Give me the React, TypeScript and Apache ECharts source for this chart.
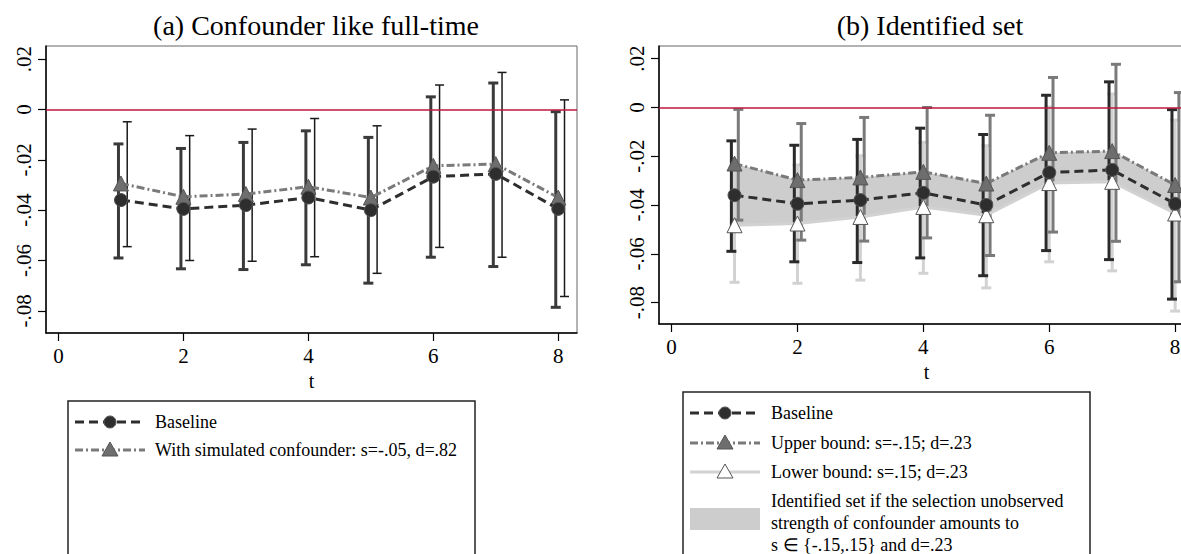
import React, { useEffect, useRef } from "react";
import * as echarts from "echarts";

const T = [1, 2, 3, 4, 5, 6, 7, 8];
const X_TICKS = [0, 2, 4, 6, 8];
const Y_TICKS = [-0.08, -0.06, -0.04, -0.02, 0, 0.02];

const BASE = [-0.036, -0.0395, -0.038, -0.035, -0.04, -0.0267, -0.0256, -0.0395];
const BASE_LO = [-0.059, -0.0633, -0.0636, -0.0617, -0.069, -0.0587, -0.0624, -0.0786];
const BASE_HI = [-0.0137, -0.0155, -0.0131, -0.0085, -0.0111, 0.005, 0.0105, -0.0009];

const CONF = [-0.0294, -0.0347, -0.0336, -0.0307, -0.035, -0.0224, -0.0217, -0.035];
const CONF_LO = [-0.0545, -0.06, -0.0603, -0.0585, -0.0651, -0.0548, -0.0587, -0.0743];
const CONF_HI = [-0.0049, -0.0104, -0.0078, -0.0036, -0.0065, 0.0097, 0.0147, 0.0038];

const UPPER = [-0.023, -0.0298, -0.0287, -0.0264, -0.0312, -0.0186, -0.0179, -0.0318];
const UPPER_LO = [-0.0462, -0.0544, -0.0548, -0.0535, -0.0607, -0.0511, -0.0549, -0.0715];
const UPPER_HI = [-0.0008, -0.0066, -0.0041, 0.0, -0.0032, 0.0123, 0.0177, 0.0061];

const LOWER = [-0.0483, -0.0476, -0.0449, -0.0408, -0.0442, -0.031, -0.0305, -0.0435];
const LOWER_LO = [-0.0717, -0.0721, -0.0708, -0.068, -0.074, -0.0633, -0.067, -0.0835];
const LOWER_HI = [-0.025, -0.0236, -0.0198, -0.0143, -0.0157, 0.0002, 0.0055, -0.0052];

const TITLE_A = "(a) Confounder like full-time";
const TITLE_B = "(b) Identified set";
const LEG_BASE = "Baseline";
const LEG_CONF = "With simulated confounder: s=-.05, d=.82";
const LEG_UP = "Upper bound: s=-.15; d=.23";
const LEG_LOW = "Lower bound: s=.15; d=.23";
const LEG_SET = "Identified set if the selection unobserved\nstrength of confounder amounts to\ns \u2208 {-.15,.15} and d=.23";

const FONT = "Liberation Serif";
const RED = "#c0163f";
const DARK = "#2e2e2e";
const MID = "#7a7a7a";
const LIGHT = "#d2d2d2";
const BAND = "#cdcdcd";

const fmtY = (v: number) =>
  v === 0 ? "0" : (v < 0 ? "-" : "") + Math.abs(v).toFixed(2).replace(/^0/, "");

function errorBars(
  idx: number,
  lo: number[],
  hi: number[],
  offset: number,
  color: string,
  width: number,
  cap: number,
  z: number
) {
  return {
    type: "custom",
    xAxisIndex: idx,
    yAxisIndex: idx,
    z,
    silent: true,
    encode: { x: 0, y: [1, 2] },
    data: T.map((t, i) => [t, lo[i], hi[i]]),
    renderItem: (params: any, api: any) => {
      const x = api.value(0) + offset;
      const a = api.coord([x, api.value(1)]);
      const b = api.coord([x, api.value(2)]);
      const h = cap / 2;
      const st = { stroke: color, lineWidth: width };
      return {
        type: "group",
        children: [
          { type: "line", shape: { x1: a[0], y1: a[1], x2: b[0], y2: b[1] }, style: st },
          { type: "line", shape: { x1: a[0] - h, y1: a[1], x2: a[0] + h, y2: a[1] }, style: st },
          { type: "line", shape: { x1: b[0] - h, y1: b[1], x2: b[0] + h, y2: b[1] }, style: st },
        ],
      };
    },
  };
}

function lineSeries(
  idx: number,
  vals: number[],
  color: string,
  dash: number[] | string,
  symbol: string,
  symbolSize: number,
  fill: string,
  z: number
) {
  return {
    type: "line",
    xAxisIndex: idx,
    yAxisIndex: idx,
    z,
    silent: true,
    data: T.map((t, i) => [t, vals[i]]),
    symbol,
    symbolSize,
    showAllSymbol: true,
    lineStyle: { color, width: 3, type: dash },
    itemStyle: { color: fill, borderColor: "#555", borderWidth: 1 },
  };
}

function zeroLine(idx: number) {
  return {
    type: "line",
    xAxisIndex: idx,
    yAxisIndex: idx,
    z: 1,
    silent: true,
    data: [],
    markLine: {
      silent: true,
      symbol: "none",
      label: { show: false },
      lineStyle: { color: RED, width: 1.5, type: "solid" },
      data: [{ yAxis: 0 }],
    },
  };
}

function axisPair(idx: number) {
  const common = {
    axisLine: { show: true, onZero: false, lineStyle: { color: "#000", width: 1.5 } },
    axisTick: { show: true, length: 8, lineStyle: { color: "#000", width: 1.2 } },
    splitLine: { show: false },
  };
  const x = {
    type: "value",
    gridIndex: idx,
    min: -0.2,
    max: 8.3,
    name: "t",
    nameLocation: "middle",
    nameGap: 36,
    nameTextStyle: { fontFamily: FONT, fontSize: 20, color: "#000" },
    ...common,
    axisTick: { ...common.axisTick, customValues: X_TICKS },
    axisLabel: {
      customValues: X_TICKS,
      fontFamily: FONT,
      fontSize: 21,
      color: "#000",
      margin: 12,
      showMinLabel: true,
      showMaxLabel: true,
    },
  };
  const y = {
    type: "value",
    gridIndex: idx,
    min: -0.0888,
    max: 0.0252,
    ...common,
    axisTick: { ...common.axisTick, customValues: Y_TICKS },
    axisLabel: {
      customValues: Y_TICKS,
      formatter: fmtY,
      rotate: 90,
      fontFamily: FONT,
      fontSize: 21,
      color: "#000",
      margin: 12,
    },
  };
  return { x, y };
}

export default function App() {
  const ref = useRef<HTMLDivElement>(null);
  useEffect(() => {
    if (!ref.current) return;
    const chart = echarts.init(ref.current, undefined, { renderer: "svg" });
    const a = axisPair(0);
    const b = axisPair(1);

    const band = {
      type: "custom",
      xAxisIndex: 1,
      yAxisIndex: 1,
      z: 1,
      silent: true,
      data: [[T[0], UPPER[0]]],
      renderItem: (params: any, api: any) => {
        const pts: number[][] = [];
        T.forEach((t, i) => pts.push(api.coord([t, UPPER[i]])));
        for (let i = T.length - 1; i >= 0; i--) pts.push(api.coord([T[i], LOWER[i]]));
        return { type: "polygon", shape: { points: pts }, style: { fill: BAND } };
      },
    };

    const legText = (x: number, y: number, text: string) => ({
      type: "text",
      x,
      y,
      style: {
        text,
        fontFamily: FONT,
        fontSize: 18,
        fill: "#000",
        verticalAlign: "middle",
        lineHeight: 22,
      },
    });
    const legLine = (x: number, y: number, color: string, dash: number[] | null) => ({
      type: "line",
      shape: { x1: x, y1: y, x2: x + 70, y2: y },
      style: { stroke: color, lineWidth: 3, lineDash: dash },
    });
    const tri = (cx: number, cy: number, fill: string) => ({
      type: "polygon",
      shape: { points: [[cx - 8, cy + 6], [cx + 8, cy + 6], [cx, cy - 8]] },
      style: { fill, stroke: "#555", lineWidth: 1 },
    });
    const dot = (cx: number, cy: number) => ({
      type: "circle",
      shape: { cx, cy, r: 6 },
      style: { fill: DARK, stroke: "#555", lineWidth: 1 },
    });

    const option: any = {
      animation: false,
      textStyle: { fontFamily: FONT, color: "#000" },
      title: [
        {
          text: TITLE_A,
          left: 311,
          top: 6,
          textAlign: "center",
          textStyle: { fontFamily: FONT, fontSize: 28, fontWeight: "normal", color: "#000" },
        },
        {
          text: TITLE_B,
          left: 925,
          top: 6,
          textAlign: "center",
          textStyle: { fontFamily: FONT, fontSize: 28, fontWeight: "normal", color: "#000" },
        },
      ],
      grid: [
        { left: 46, top: 46, width: 531, height: 287, show: true, borderColor: "#666", borderWidth: 1 },
        { left: 659, top: 46, width: 535, height: 278, show: true, borderColor: "#666", borderWidth: 1 },
      ],
      xAxis: [a.x, b.x],
      yAxis: [a.y, b.y],
      series: [
        zeroLine(0),
        errorBars(0, BASE_LO, BASE_HI, -0.04, "#3a3a3a", 3, 10, 3),
        errorBars(0, CONF_LO, CONF_HI, 0.1, "#1a1a1a", 1.5, 9, 3),
        lineSeries(0, CONF, MID, [8, 3, 2, 3], "triangle", 15, "#6e6e6e", 4),
        lineSeries(0, BASE, DARK, [9, 5], "circle", 13, DARK, 5),

        band,
        zeroLine(1),
        errorBars(1, LOWER_LO, LOWER_HI, 0, LIGHT, 3, 10, 3),
        errorBars(1, BASE_LO, BASE_HI, -0.05, "#2a2a2a", 3, 10, 3),
        errorBars(1, UPPER_LO, UPPER_HI, 0.06, MID, 3, 10, 3),
        lineSeries(1, LOWER, LIGHT, "solid", "triangle", 15, "#ffffff", 4),
        lineSeries(1, UPPER, MID, [8, 3, 2, 3], "triangle", 15, "#6e6e6e", 4),
        lineSeries(1, BASE, DARK, [9, 5], "circle", 13, DARK, 5),
      ],
      graphic: [
        {
          type: "rect",
          shape: { x: 68, y: 401, width: 407, height: 200 },
          style: { fill: "#fff", stroke: "#222", lineWidth: 1.5 },
        },
        legLine(75, 422, DARK, [9, 5]),
        dot(110, 422),
        legText(155, 422, LEG_BASE),
        legLine(75, 450, MID, [8, 3, 2, 3]),
        tri(110, 450, "#6e6e6e"),
        legText(155, 450, LEG_CONF),

        {
          type: "rect",
          shape: { x: 683, y: 392, width: 407, height: 200 },
          style: { fill: "#fff", stroke: "#222", lineWidth: 1.5 },
        },
        legLine(690, 413, DARK, [9, 5]),
        dot(725, 413),
        legText(771, 413, LEG_BASE),
        legLine(690, 443, MID, [8, 3, 2, 3]),
        tri(725, 443, "#6e6e6e"),
        legText(771, 443, LEG_UP),
        legLine(690, 472, LIGHT, null),
        tri(725, 472, "#ffffff"),
        legText(771, 472, LEG_LOW),
        {
          type: "rect",
          shape: { x: 690, y: 508, width: 70, height: 22 },
          style: { fill: BAND },
        },
        {
          type: "text",
          x: 771,
          y: 490,
          style: {
            text: LEG_SET,
            fontFamily: FONT,
            fontSize: 18,
            fill: "#000",
            verticalAlign: "top",
            lineHeight: 22,
          },
        },
      ],
    };
    chart.setOption(option);
    return () => chart.dispose();
  }, []);
  return (
    <div
      style={{
        position: "absolute",
        left: 0,
        top: 0,
        width: 1181,
        height: 554,
        overflow: "hidden",
        background: "#fff",
      }}
    >
      <div ref={ref} style={{ width: 1210, height: 554 }} />
    </div>
  );
}
